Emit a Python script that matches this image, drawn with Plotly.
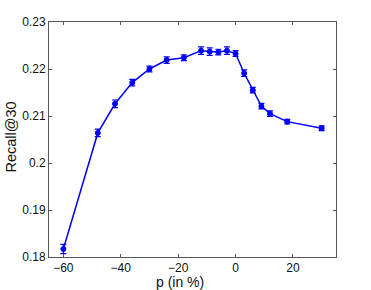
import plotly.graph_objects as go

p_values = [-60, -48, -42, -36, -30, -24, -18, -12, -9, -6, -3, 0, 3, 6, 9, 12, 18, 30]
recall = [0.1817, 0.2064, 0.2126, 0.2171, 0.2200, 0.2219, 0.2224, 0.2239, 0.2237, 0.2236,
          0.2239, 0.2233, 0.2191, 0.2155, 0.2121, 0.2105, 0.2088, 0.2074]
err = [0.0010, 0.0008, 0.0008, 0.0007, 0.0006, 0.0007, 0.0006, 0.0008, 0.0008, 0.0006,
       0.0008, 0.0006, 0.0007, 0.0006, 0.0006, 0.0006, 0.0005, 0.0005]
x_ticks = [-60, -40, -20, 0, 20]
y_ticks = [0.18, 0.19, 0.2, 0.21, 0.22, 0.23]
y_tick_labels = ["0.18", "0.19", "0.2", "0.21", "0.22", "0.23"]

FONT = "Liberation Sans, Arial, sans-serif"

fig = go.Figure()
fig.add_trace(go.Scatter(
    x=p_values, y=recall, mode="lines+markers",
    line=dict(color="#0000ff", width=1.5),
    marker=dict(symbol="circle", size=5, color="#0000ff", line=dict(color="#0000ff", width=1)),
    error_y=dict(type="data", array=err, visible=True, color="#0000ff", thickness=1.2, width=3),
    showlegend=False,
))

axis_common = dict(
    showline=True, mirror="ticks", linecolor="#555555", linewidth=1,
    ticks="inside", ticklen=3, tickcolor="#555555", tickwidth=1,
    showgrid=False, zeroline=False,
    tickfont=dict(family=FONT, size=12, color="#111111"),
)

fig.update_layout(
    width=371, height=290,
    margin=dict(l=49, r=35, t=22, b=33, pad=0),
    paper_bgcolor="white", plot_bgcolor="white",
    font=dict(family=FONT, size=12, color="#111111"),
    xaxis=dict(range=[-65, 35], tickvals=x_ticks, **axis_common),
    yaxis=dict(range=[0.18, 0.23], tickvals=y_ticks, ticktext=y_tick_labels, **axis_common),
)
fig.add_annotation(text="p (in %)", xref="paper", yref="paper", x=0.455, y=0,
                   yshift=-25, yanchor="middle", xanchor="center",
                   showarrow=False, font=dict(size=14, color="#111111"))
fig.add_annotation(text="Recall@30", xref="paper", yref="paper", x=0, y=0.5,
                   xshift=-39, yshift=2, xanchor="center", yanchor="middle", textangle=-90,
                   showarrow=False, font=dict(size=14.5, color="#111111"))

fig.write_html("out.html", config={"displayModeBar": False},
               post_script="document.body.style.margin='0';document.body.style.padding='0';")
